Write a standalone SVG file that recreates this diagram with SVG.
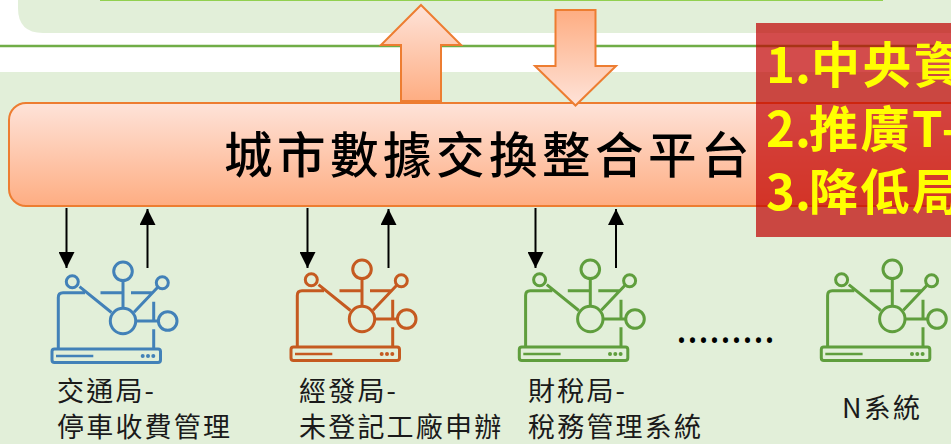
<svg xmlns="http://www.w3.org/2000/svg" width="951" height="444" viewBox="0 0 951 444">
<style>
.l{font-family:"Noto Sans CJK TC","Liberation Sans",sans-serif;font-size:27px;letter-spacing:2.2px;fill:#1a1a1a}
.t{font-family:"Noto Sans CJK TC",sans-serif;font-size:48.500px;font-weight:500;letter-spacing:4.500px;fill:#000}
.y{font-family:"Noto Sans CJK TC","Liberation Sans",sans-serif;font-size:49px;font-weight:700;fill:#ff0;letter-spacing:2.500px}
.d{letter-spacing:0}
.a{stroke:#ed7d31;stroke-width:2}
.c{stroke:#000;stroke-width:2;fill:none;marker-end:url(#ah)}
.ic{fill:none;stroke:currentColor;stroke-width:3}
</style>
<defs>
<linearGradient id="gd" x1="0" y1="0" x2="0" y2="1"><stop offset="0" stop-color="#fee3d9"/><stop offset="1" stop-color="#fead82"/></linearGradient>
<linearGradient id="gd2" x1="0" y1="0" x2="0" y2="1"><stop offset="0" stop-color="#fead82"/><stop offset="1" stop-color="#fee3d9"/></linearGradient>
<marker id="ah" markerUnits="userSpaceOnUse" markerWidth="16" markerHeight="16" refX="16" refY="8" orient="auto"><path d="M0 0L16 8L0 16z" fill="#000"/></marker>
<g id="icon" class="ic">
<circle cx="42.3" cy="31.7" r="6"/><circle cx="93" cy="21.3" r="9.3"/><circle cx="132.3" cy="32.7" r="6"/><circle cx="93" cy="71" r="12.7"/><circle cx="137.7" cy="71" r="9.3"/>
<path d="M28.3 99V47.5Q28.3 42.7 33 42.7H55M49.5 36.7L81.5 62.5M93 30.5V57.5M70.5 42.7H91.5M101 42.7H122M127.5 37.5L104 62.3M123.7 51.7V71M106.5 71H128M123.7 79.3V99"/>
<rect x="22" y="99" width="108.500" height="13.500" rx="2.500"/>
<path d="M26 106H63.300" stroke-width="2.500"/>
<g fill="currentColor" stroke="none"><circle cx="112.700" cy="106" r="2"/><circle cx="118" cy="106" r="2"/><circle cx="123.300" cy="106" r="2"/></g>
</g>
</defs>
<rect width="951" height="444" fill="#fff"/>
<path d="M18 -5H951V33H43Q18 33 18 8z" fill="#e2efd9"/>
<path d="M100 0H883" stroke="#92d050" stroke-width="2"/>
<path d="M0 46H951" stroke="#70ad47" stroke-width="2.500"/>
<rect x="0" y="72" width="951" height="372" fill="#e2efd9"/>
<g id="platform">
<rect class="a" x="9" y="103" width="970" height="103" rx="17" fill="url(#gd)"/>
<text class="t" x="224" y="173">城市數據交換整合平台</text>
</g>
<g id="arrow-up"><path class="a" d="M421 5L461 45H441V101H401V45H381z" fill="url(#gd)"/></g>
<g id="arrow-down"><path class="a" d="M555.500 10H595.500V66H616L575.500 105.500L535 66H555.500z" fill="url(#gd2)"/></g>
<g id="connectors">
<path class="c" d="M66.500 208V268"/><path class="c" d="M147.500 268V209"/>
<path class="c" d="M307.500 208V268"/><path class="c" d="M388.500 268V209"/>
<path class="c" d="M535.500 208V268"/><path class="c" d="M616 268V209"/>
</g>
<g id="node-traffic" color="#4281b8"><use href="#icon" x="30" y="250"/>
<text class="l" x="57" y="401">交通局-</text><text class="l" x="57" y="437">停車收費管理</text></g>
<g id="node-econ" color="#c55a20"><use href="#icon" x="269" y="248"/>
<text class="l" x="299" y="401">經發局-</text><text class="l" x="299" y="437">未登記工廠申辦</text></g>
<g id="node-finance" color="#5f9e3d"><use href="#icon" x="497.300" y="248"/>
<text class="l" x="528" y="401">財稅局-</text><text class="l" x="528" y="437">稅務管理系統</text></g>
<text x="676" y="343" font-family="Noto Sans,sans-serif" font-size="41" fill="#000">.........</text>
<g id="node-n" color="#5f9e3d"><use href="#icon" x="799.300" y="248"/>
<text class="l" x="842" y="418">N系統</text></g>
<g id="note">
<rect x="756" y="23" width="195" height="214" fill="#c00000" fill-opacity=".7"/>
<text class="y" x="766" y="83"><tspan class="d">1.</tspan><tspan x="811">中央資</tspan></text>
<text class="y" x="766" y="147"><tspan class="d">2.</tspan><tspan x="809">推廣T-</tspan></text>
<text class="y" x="766" y="210"><tspan class="d">3.</tspan><tspan x="809">降低局</tspan></text>
</g>
</svg>
